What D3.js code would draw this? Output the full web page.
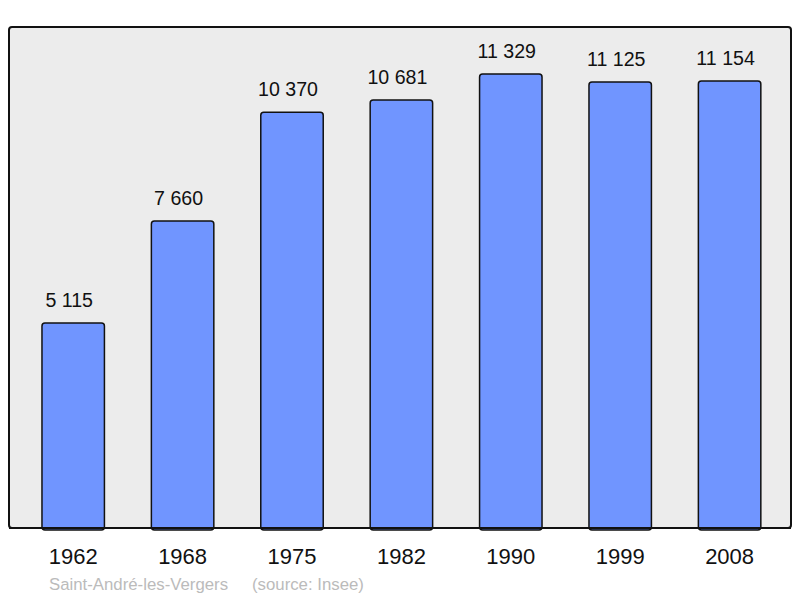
<!DOCTYPE html>
<html><head><meta charset="utf-8">
<script src="https://cdn.jsdelivr.net/npm/d3@7"></script>
<style>body{margin:0;background:#fff}svg{display:block}text{font-family:"Liberation Sans",Arial,sans-serif}</style>
</head><body>
<svg id="c" width="800" height="598"></svg>
<script>
const years = ["1962","1968","1975","1982","1990","1999","2008"];
const population = [5115, 7660, 10370, 10681, 11329, 11125, 11154];
const valueLabels = ["5 115","7 660","10 370","10 681","11 329","11 125","11 154"];
const townName = "Saint-André-les-Vergers";
const sourceText = "(source: Insee)";

const svg = d3.select("#c");
const panel = {x0: 9, y0: 27, x1: 791, y1: 528};

svg.append("rect").attr("x", panel.x0).attr("y", panel.y0)
  .attr("width", panel.x1 - panel.x0).attr("height", panel.y1 - panel.y0)
  .attr("rx", 3).attr("fill", "#ececec").attr("stroke", "#111").attr("stroke-width", 2);

const x = d3.scaleBand().domain(years).range([18.5, 784.3]).paddingInner(0.42).paddingOuter(0.21);
const y = d3.scaleLinear().domain([0, 12500]).range([panel.y1, panel.y0]);

const g = svg.append("g");
g.selectAll("rect.bar").data(years).join("rect").attr("class", "bar")
  .attr("x", d => x(d) + 0.5).attr("width", x.bandwidth() - 1)
  .attr("y", (d, i) => y(population[i]))
  .attr("height", (d, i) => y(0) - y(population[i]) + 2)
  .attr("rx", 3)
  .attr("fill", "#7095ff").attr("stroke", "#111").attr("stroke-width", 1.5);

svg.append("line").attr("x1", panel.x0).attr("x2", panel.x1)
  .attr("y1", panel.y1).attr("y2", panel.y1).attr("stroke", "#111").attr("stroke-width", 2);

g.selectAll("text.val").data(years).join("text").attr("class", "val")
  .attr("x", d => x(d) + x.bandwidth() / 2 - 4)
  .attr("y", (d, i) => y(population[i]) - 16)
  .attr("text-anchor", "middle").attr("font-size", 19.6).attr("fill", "#111")
  .text((d, i) => valueLabels[i]);

const xAxis = d3.axisBottom(x).tickSize(0).tickPadding(0);
const ax = svg.append("g").attr("transform", `translate(0,${panel.y1})`).call(xAxis);
ax.select(".domain").remove();
ax.selectAll("text").attr("y", 36).attr("dy", 0).attr("font-size", 22)
  .attr("fill", "#111").attr("font-family", "Liberation Sans, Arial, sans-serif");

svg.append("text").attr("x", 49).attr("y", 590).attr("font-size", 16.8).attr("fill", "#bbb").text(townName);
svg.append("text").attr("x", 252).attr("y", 590).attr("font-size", 16.8).attr("fill", "#bbb").text(sourceText);
</script>
</body></html>
